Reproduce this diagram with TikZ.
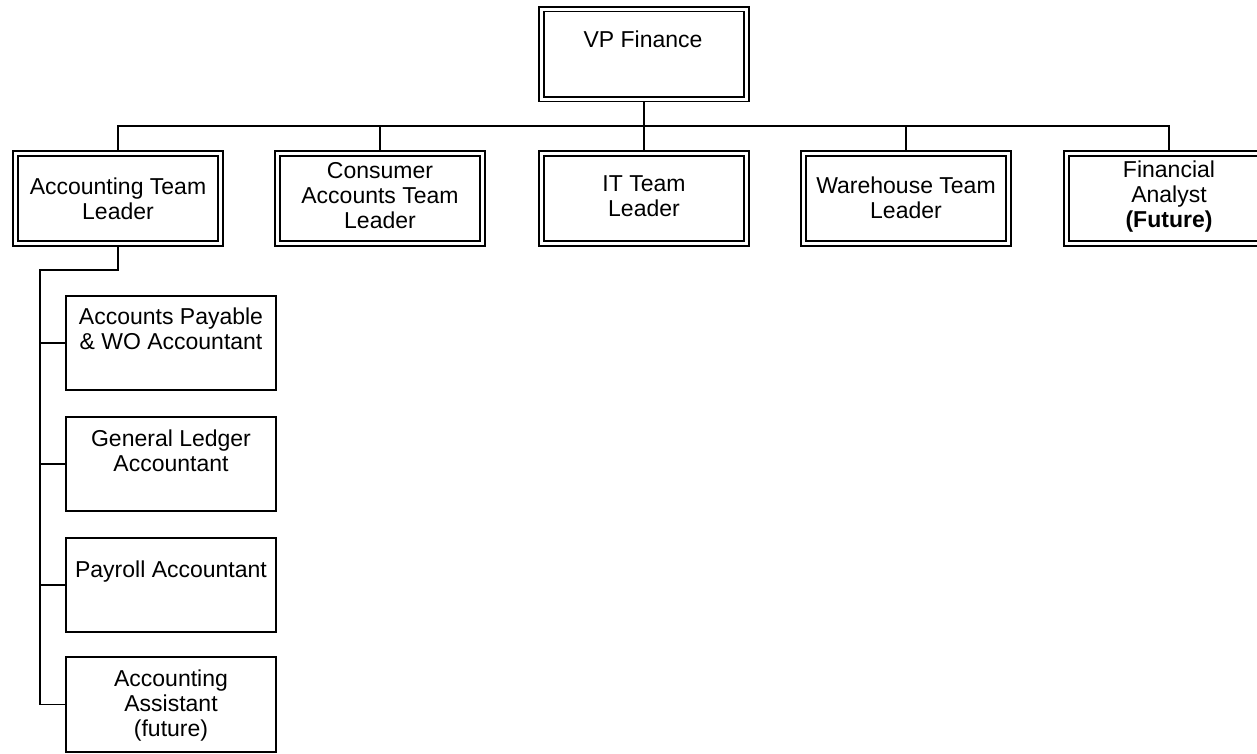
\documentclass[tikz,border=0pt]{standalone}
\usepackage{fontspec}
\setmainfont{Liberation Sans}
\begin{document}
\begin{tikzpicture}[x=1pt,y=-1pt,
  lead/.style={draw, double, double distance=3pt, line width=1.7pt,
    minimum width=205pt, minimum height=90pt, inner sep=0pt, outer sep=3.2pt},
  staff/.style={draw, line width=1.6pt, minimum width=210.5pt,
    minimum height=94.5pt, inner sep=0pt, outer sep=0.8pt},
  lbl/.style={font=\fontsize{23}{25}\selectfont, align=center, inner sep=0pt,
    anchor=base},
  wire/.style={line width=1.4pt, line join=miter}]
\useasboundingbox (0,0) rectangle (1257,753);
\clip (0,0) rectangle (1257,753);
\fill[white] (0,0) rectangle (1257,753);

% head of the department (labels sit on the baseline of their last line)
\node[lead] (vp) at (644,54) {};
\node[lbl] (vpt) at (643,47) {VP Finance};

% team leaders
\node[lead] (acc) at (118,198.5) {};
\node[lead] (con) at (380,198.5) {};
\node[lead] (it)  at (644,198.5) {};
\node[lead] (wh)  at (906,198.5) {};
\node[lead] (fin) at (1169,198.5) {};
\node[lbl] (acct) at (118,219) {Accounting Team\\Leader};
\node[lbl] (cont) at (380,228) {Consumer\\Accounts Team\\Leader};
\node[lbl] (itt)  at (644,216) {IT Team\\Leader};
\node[lbl] (wht)  at (906,218) {Warehouse Team\\Leader};
\node[lbl] (fint) at (1169,227) {Financial\\Analyst\\\textbf{(Future)}};

% accounting staff
\node[staff] (s1) at (171,343) {};
\node[staff] (s2) at (171,464) {};
\node[staff] (s3) at (171,585) {};
\node[staff] (s4) at (171,704.5) {};
\node[lbl] (s1t) at (171,349) {Accounts Payable\\\& WO Accountant};
\node[lbl] (s2t) at (171,471) {General Ledger\\Accountant};
\node[lbl] (s3t) at (171,577) {Payroll Accountant};
\node[lbl] (s4t) at (171,736) {Accounting\\Assistant\\(future)};

% reporting lines to the VP
\coordinate (bus) at (0,126);
\draw[wire] (vp.south) -- (vp.south |- bus);
\draw[wire] (acc.north) |- (fin.north |- bus) -- (fin.north);
\foreach \b in {con,it,wh}
  \draw[wire] (\b.north) -- (\b.north |- bus);

% reporting lines to the accounting team leader
\coordinate (trunk) at (40,270);
\draw[wire] (acc.south) |- (trunk) |- (s4.west);
\foreach \b in {s1,s2,s3}
  \draw[wire] (\b.west) -- (\b.west -| trunk);
\end{tikzpicture}
\end{document}
